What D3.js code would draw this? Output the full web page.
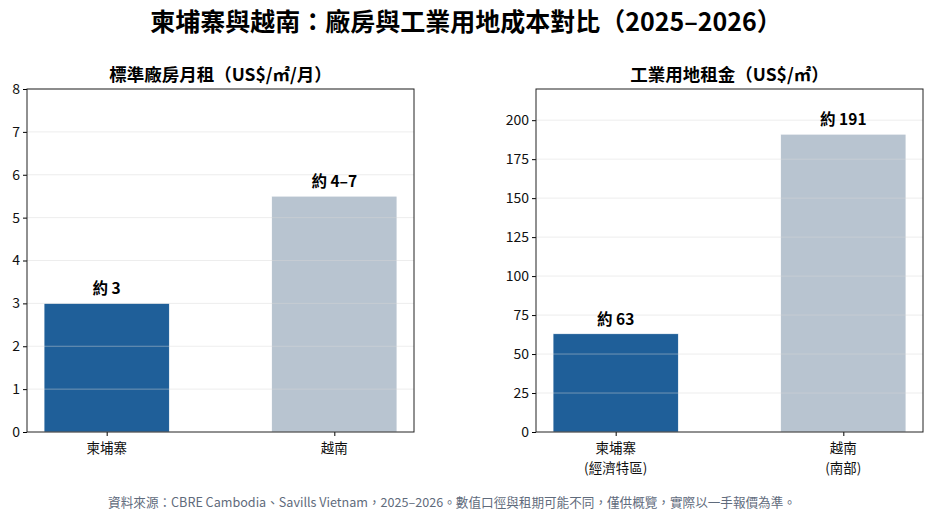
<!DOCTYPE html>
<html>
<head>
<meta charset="utf-8">
<script src="https://cdn.jsdelivr.net/npm/d3@7"></script>
<style>
  body { margin: 0; background: #fff; }
  svg { font-family: "Noto Sans CJK TC", "Noto Sans", sans-serif; }
</style>
</head>
<body>
<svg id="chart" width="933" height="520"></svg>
<script>
// data
const countriesLeft = ["柬埔寨", "越南"];
const factoryRent = [3, 5.5];
const factoryLabels = ["約 3", "約 4–7"];
const factoryTicks = [0, 1, 2, 3, 4, 5, 6, 7, 8];

const countriesRight = [["柬埔寨", "(經濟特區)"], ["越南", "(南部)"]];
const landRent = [63, 191];
const landLabels = ["約 63", "約 191"];
const landTicks = [0, 25, 50, 75, 100, 125, 150, 175, 200];

const barColors = ["#1f5f99", "#b8c4d0"];

let svg = d3.select("#chart");

svg.append("text")
  .attr("x", 466).attr("y", 31)
  .attr("text-anchor", "middle")
  .style("font-size", "25px").style("font-weight", "700")
  .text("柬埔寨與越南：廠房與工業用地成本對比（2025–2026）");

svg.append("text")
  .attr("x", 452).attr("y", 507)
  .attr("text-anchor", "middle")
  .style("font-size", "12.6px").style("fill", "#5f6b7c")
  .text("資料來源：CBRE Cambodia、Savills Vietnam，2025–2026。數值口徑與租期可能不同，僅供概覽，實際以一手報價為準。");

let drawPanel = (left, values, labels, cats, ticks, ymax, title) => {
  let top = 89, bottom = 432, right = left + 387;
  let x = d3.scaleLinear().domain([-0.35, 1.35]).range([left, right]);
  let y = d3.scaleLinear().domain([0, ymax]).range([bottom, top]);
  let g = svg.append("g");

  // bars
  g.selectAll("rect.bar").data(values).enter().append("rect")
    .attr("x", (d, i) => x(i - 0.275))
    .attr("width", x(0.55) - x(0))
    .attr("y", d => y(d))
    .attr("height", d => bottom - y(d))
    .attr("fill", (d, i) => barColors[i])
    .attr("stroke", "#fff").attr("stroke-width", 0.6);

  // grid on top, faint
  g.selectAll("line.grid").data(ticks.slice(1)).enter().append("line")
    .attr("x1", left).attr("x2", right)
    .attr("y1", d => y(d)).attr("y2", d => y(d))
    .attr("stroke", "#d8d8d8").attr("stroke-opacity", 0.45).attr("stroke-width", 1);

  g.selectAll("text.val").data(values).enter().append("text")
    .attr("x", (d, i) => x(i))
    .attr("y", d => y(d) - 9)
    .attr("text-anchor", "middle")
    .style("font-size", "15.5px").style("font-weight", "700")
    .text((d, i) => labels[i]);

  // axes
  let yAxis = g.append("g").attr("transform", `translate(${left},0)`)
    .call(d3.axisLeft(y).tickValues(ticks).tickSize(4).tickPadding(3));
  yAxis.select(".domain").remove();
  yAxis.selectAll("text").style("font-size", "14px").style("font-family", "'Noto Sans CJK TC'").attr("fill", "#111");

  let xAxis = g.append("g").attr("transform", `translate(0,${bottom})`)
    .call(d3.axisBottom(x).tickValues([0, 1]).tickSize(4).tickFormat(""));
  xAxis.select(".domain").remove();
  xAxis.selectAll("text").remove();

  cats.forEach((c, i) => {
    let lines = Array.isArray(c) ? c : [c];
    lines.forEach((ln, j) => {
      g.append("text").attr("x", x(i)).attr("y", bottom + 21 + j * 19.5)
        .attr("text-anchor", "middle").style("font-size", "13.5px").attr("fill", "#111")
        .text(ln);
    });
  });

  g.append("rect")
    .attr("x", left).attr("y", top)
    .attr("width", right - left).attr("height", bottom - top)
    .attr("fill", "none").attr("stroke", "#222").attr("stroke-width", 1);

  g.append("text")
    .attr("x", (left + right) / 2).attr("y", top - 8)
    .attr("text-anchor", "middle")
    .style("font-size", "17.5px").style("font-weight", "700")
    .text(title);
};

drawPanel(27, factoryRent, factoryLabels, countriesLeft, factoryTicks, 8, "標準廠房月租（US$/㎡/月）");
drawPanel(536, landRent, landLabels, countriesRight, landTicks, 220, "工業用地租金（US$/㎡）");
</script>
</body>
</html>
